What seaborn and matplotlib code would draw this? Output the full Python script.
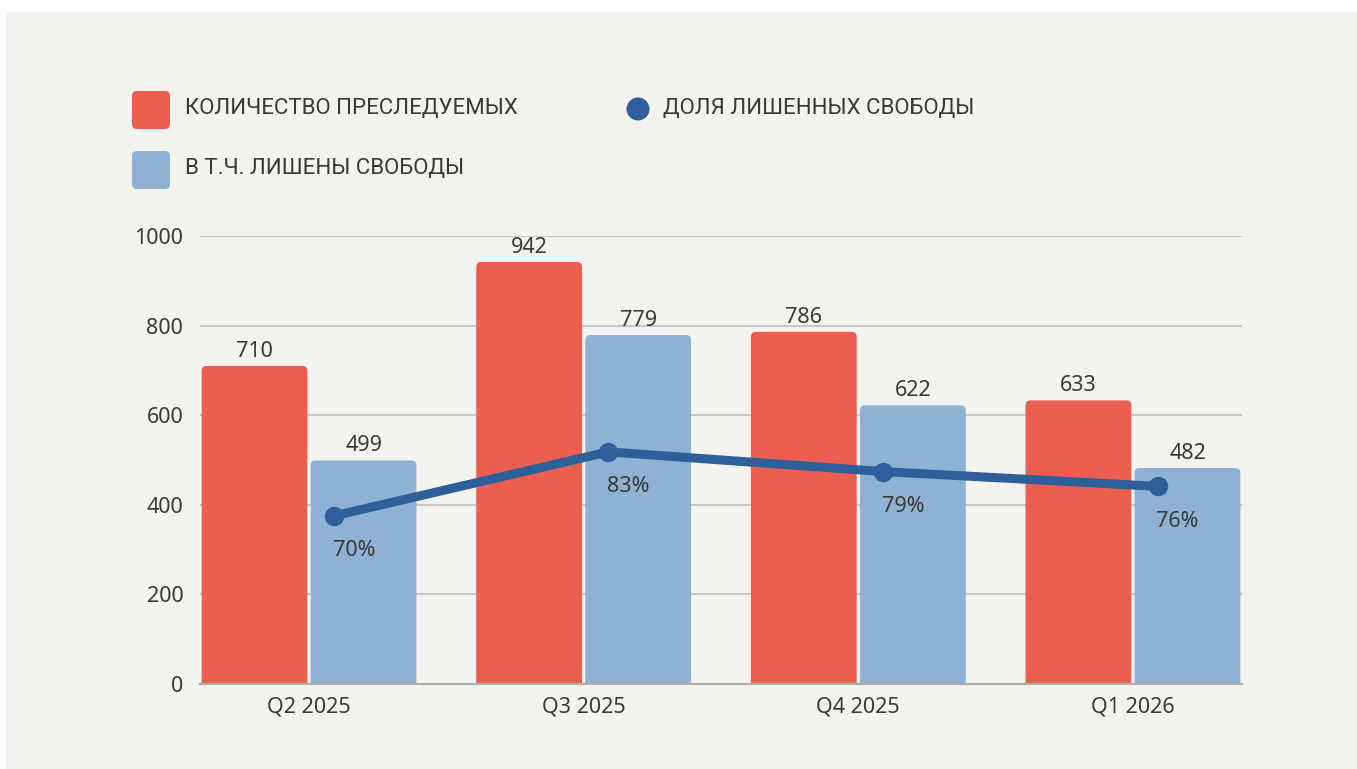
import numpy as np
import pandas as pd
import matplotlib
matplotlib.use("Agg")
import matplotlib.pyplot as plt
import matplotlib.patches as mpatches
import seaborn as sns

# ---------- DATA ----------
quarters = ["Q2 2025", "Q3 2025", "Q4 2025", "Q1 2026"]
prosecuted = [710, 942, 786, 633]
imprisoned = [499, 779, 622, 482]
share_pct = [70, 83, 79, 76]

label_prosecuted = "КОЛИЧЕСТВО ПРЕСЛЕДУЕМЫХ"
label_imprisoned = "В Т.Ч. ЛИШЕНЫ СВОБОДЫ"
label_share = "ДОЛЯ ЛИШЕННЫХ СВОБОДЫ"

# ---------- STYLE ----------
RED = "#EC5E50"
BLUE = "#8FB2D4"
LINE = "#2E5F9A"
BG = "#F4F3EF"
GRID = "#C9C7C1"
TEXT = "#3A3A3A"

sns.set_style("white")
plt.rcParams["font.family"] = ["Noto Sans", "DejaVu Sans"]

df = pd.DataFrame({
    "quarter": quarters * 2,
    "value": prosecuted + imprisoned,
    "series": [label_prosecuted] * 4 + [label_imprisoned] * 4,
})

fig = plt.figure(figsize=(13.57, 7.69), dpi=100)
fig.patch.set_facecolor("white")

# beige panel behind the chart
fig.patches.append(mpatches.Rectangle(
    (0.06, 0), 13.57, 7.69 - 0.12,
    transform=fig.dpi_scale_trans, facecolor=BG, edgecolor="none", zorder=-10
))

ax = fig.add_axes([200 / 1357, 85 / 769, 1042 / 1357, 448 / 769])
ax.set_facecolor("none")

sns.barplot(
    data=df, x="quarter", y="value", hue="series",
    palette=[RED, BLUE], width=0.794, gap=0.03, linewidth=0,
    saturation=1, legend=False, ax=ax, zorder=3
)

for cont in ax.containers:
    ax.bar_label(cont, padding=3, fontsize=15.5, color=TEXT)

ax.set_xlim(-0.397, 3.397)
ax.set_ylim(0, 1000)

# rounded tops: swap each rectangle for a rounded box of the same size
px_x = 3.794 / 1042      # x data units per pixel
px_y = 1000 / 448        # y data units per pixel
for bar in list(ax.patches):
    x0, w, h = bar.get_x(), bar.get_width(), bar.get_height()
    rounded = mpatches.FancyBboxPatch(
        (x0, -20), w, h + 20,
        boxstyle=f"round,pad=0,rounding_size={5 * px_x}",
        mutation_aspect=px_y / px_x,
        facecolor=bar.get_facecolor(), edgecolor="none", zorder=3
    )
    ax.add_patch(rounded)
    bar.set_visible(False)

ax.set_yticks([0, 200, 400, 600, 800, 1000])
ax.grid(axis="y", color=GRID, linewidth=1.5, zorder=0)
ax.set_axisbelow(True)
ax.set_xlabel("")
ax.set_ylabel("")
for side in ["top", "right", "left"]:
    ax.spines[side].set_visible(False)
ax.spines["bottom"].set_color("#AFADA7")
ax.spines["bottom"].set_linewidth(1.5)
ax.spines["bottom"].set_zorder(4)
ax.tick_params(axis="x", length=0, pad=9, labelsize=15.5, labelcolor=TEXT)
ax.tick_params(axis="y", length=0, pad=12, labelsize=15.5, labelcolor=TEXT)

# ---------- SHARE LINE (secondary axis) ----------
ax2 = ax.twinx()
x_line = np.arange(len(quarters)) + 0.09
sns.lineplot(
    x=x_line, y=share_pct, ax=ax2, color=LINE, linewidth=6.5,
    marker="o", markersize=14, markeredgewidth=0, zorder=5
)
ax2.set_ylim(35.9, 126.8)
ax2.set_yticks([])
for side in ["top", "right", "left", "bottom"]:
    ax2.spines[side].set_visible(False)

for x, p in zip(x_line, share_pct):
    ax2.annotate(
        f"{p}%", (x, p), textcoords="offset pixels", xytext=(20, -35),
        ha="center", va="center", fontsize=15.5, color=TEXT
    )

# ---------- LEGEND ----------
H = 7.69
for y_top, color in [(0.91, RED), (1.51, BLUE)]:
    fig.patches.append(mpatches.FancyBboxPatch(
        (1.32, H - y_top - 0.38), 0.38, 0.38,
        boxstyle="round,pad=0,rounding_size=0.05",
        transform=fig.dpi_scale_trans, facecolor=color, edgecolor="none"
    ))
fig.patches.append(mpatches.Circle(
    (6.38, H - 1.09), 0.115, transform=fig.dpi_scale_trans,
    facecolor=LINE, edgecolor="none"
))

legend_font = dict(fontsize=16, color=TEXT, va="center", family=["Roboto", "DejaVu Sans"])
fig.text(185 / 1357, 1 - 108 / 769, label_prosecuted, **legend_font)
fig.text(185 / 1357, 1 - 168 / 769, label_imprisoned, **legend_font)
fig.text(663 / 1357, 1 - 108 / 769, label_share, **legend_font)

fig.savefig("out.png", dpi=100, facecolor=fig.get_facecolor())
